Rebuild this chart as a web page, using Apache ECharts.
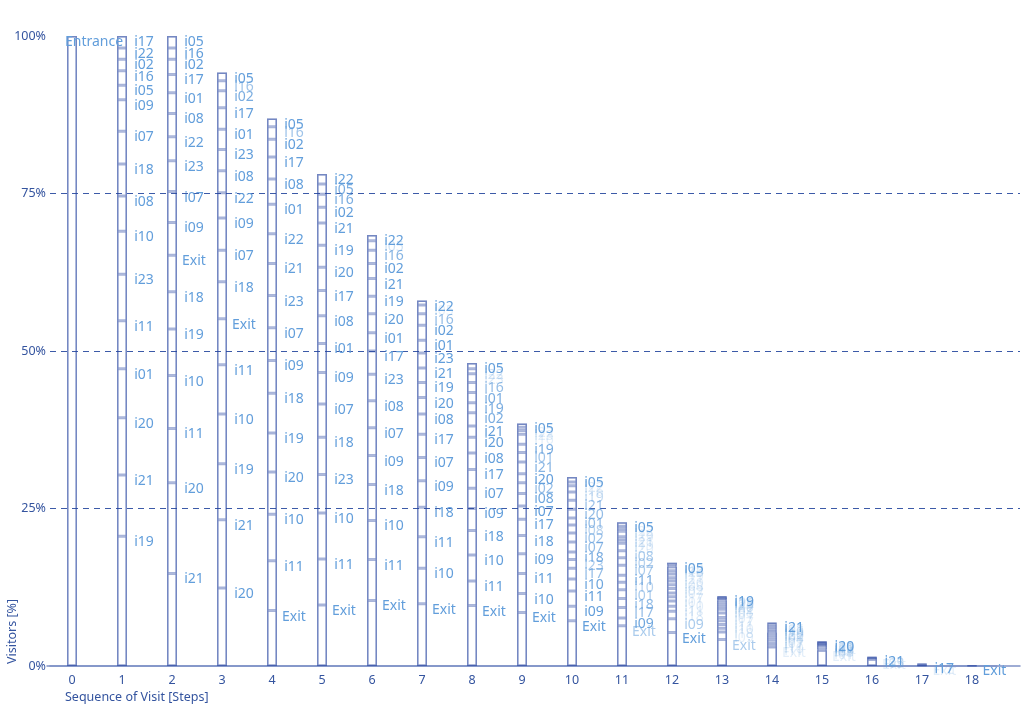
<!DOCTYPE html>
<html><head><meta charset="utf-8">
<script src="https://cdn.jsdelivr.net/npm/echarts@6/dist/echarts.min.js"></script>
<style>html,body{margin:0;padding:0;background:#fff}#c{width:1024px;height:710px}</style>
</head><body><div id="c"></div>
<script>
// Steps (x categories)
const steps = ['0','1','2','3','4','5','6','7','8','9','10','11','12','13','14','15','16','17','18'];
// y axis range / ticks (percent)
const yMin = 0, yMax = 100, yStep = 25;

// Segments of each step, listed from top to bottom: [page, share of visitors in %]
const step0 = [['Entrance',100]];
const step1 = [['i17',1.9],['i22',1.8],['i02',1.8],['i16',2.3],['i05',2.3],['i09',5.0],['i07',5.2],['i18',5.1],['i08',5.6],['i10',6.8],['i23',7.4],['i11',7.6],['i01',7.8],['i20',9.1],['i21',9.7],['i19',20.6]];
const step2 = [['i05',1.9],['i16',1.8],['i02',2.4],['i17',2.9],['i01',3.3],['i08',3.7],['i22',3.8],['i23',4.9],['i07',4.9],['i09',5.2],['Exit',5.8],['i18',5.9],['i19',7.4],['i10',8.4],['i11',8.6],['i20',14.4],['i21',14.7]];
const step3 = [['i05',1.3],['i16',1.6],['i02',2.7],['i17',3.4],['i01',3.2],['i23',3.4],['i08',3.5],['i22',4.0],['i09',5.1],['i07',5.0],['i18',5.9],['Exit',7.3],['i11',7.8],['i10',7.9],['i19',8.9],['i21',10.8],['i20',12.4]];
const step4 = [['i05',1.3],['i16',2.0],['i02',2.8],['i17',3.5],['i08',4.0],['i01',4.7],['i22',4.7],['i21',5.1],['i23',5.1],['i07',5.2],['i09',5.2],['i18',6.3],['i19',6.2],['i20',6.7],['i10',7.4],['i11',7.9],['Exit',8.8]];
const step5 = [['i22',1.6],['i05',1.6],['i16',2.1],['i02',2.5],['i21',3.5],['i19',3.5],['i20',3.7],['i17',4.0],['i08',4.4],['i01',4.6],['i09',5.0],['i07',5.3],['i18',5.9],['i23',6.1],['i10',7.3],['i11',7.3],['Exit',9.7]];
const step6 = [['i22',0.9],['i05',1.5],['i16',2.1],['i02',2.4],['i21',2.8],['i19',2.8],['i20',3.0],['i01',2.9],['i17',3.7],['i23',4.2],['i08',4.3],['i07',4.4],['i09',4.6],['i18',5.7],['i10',6.2],['i11',6.5],['Exit',10.4]];
const step7 = [['i22',0.7],['i05',1.4],['i16',1.8],['i02',2.4],['i01',2.0],['i23',2.4],['i21',2.3],['i19',2.4],['i20',2.6],['i08',3.2],['i17',3.7],['i07',3.7],['i09',4.2],['i18',4.7],['i11',5.0],['i10',5.6],['Exit',9.9]];
const step8 = [['i05',0.9],['i22',0.8],['i23',1.4],['i16',1.6],['i01',1.6],['i19',1.6],['i02',2.1],['i21',1.8],['i20',2.5],['i08',2.6],['i17',3.0],['i07',3.2],['i09',3.5],['i18',3.9],['i10',4.1],['i11',3.9],['Exit',9.6]];
const step9 = [['i05',0.6],['i22',0.5],['i23',0.6],['i16',1.6],['i19',1.3],['i01',1.5],['i21',1.9],['i20',1.4],['i02',1.7],['i08',2.0],['i07',2.1],['i17',2.6],['i18',2.9],['i09',3.1],['i11',3.2],['i10',3.0],['Exit',8.5]];
const step10 = [['i05',0.8],['i22',0.6],['i16',1.0],['i19',1.3],['i21',1.4],['i20',1.4],['i01',1.1],['i08',1.3],['i02',1.4],['i07',1.6],['i18',1.2],['i23',1.4],['i17',1.7],['i10',1.9],['i11',2.4],['i09',2.3],['Exit',7.2]];
const step11 = [['i05',0.6],['i22',0.4],['i16',0.4],['i23',0.9],['i21',0.5],['i19',0.5],['i20',1.2],['i08',1.1],['i02',1.2],['i07',1.6],['i11',1.1],['i10',1.2],['i01',1.4],['i18',1.4],['i17',1.7],['i09',1.2],['Exit',6.4]];
const step12 = [['i05',0.3],['i22',0.2],['i16',0.2],['i23',0.6],['i19',0.5],['i21',0.6],['i20',0.5],['i08',0.6],['i02',0.6],['i07',0.7],['i17',0.6],['i01',0.7],['i10',0.8],['i11',0.8],['i18',1.2],['i09',2.2],['Exit',5.3]];
const step13 = [['i19',0.2],['i05',0.1],['i22',0.1],['i16',0.1],['i23',0.2],['i21',0.3],['i20',0.3],['i02',0.4],['i08',0.4],['i01',0.6],['i07',0.7],['i17',0.5],['i11',0.6],['i10',0.6],['i18',0.6],['i09',1.2],['Exit',4.2]];
const step14 = [['i21',0.2],['i05',0.2],['i22',0.2],['i16',0.2],['i19',0.2],['i23',0.2],['i20',0.2],['i02',0.2],['i08',0.4],['i01',0.4],['i07',0.3],['i17',0.5],['i10',0.4],['i11',0.3],['Exit',3.0]];
const step15 = [['i20',0.1],['i05',0.1],['i21',0.1],['i19',0.1],['i22',0.1],['i16',0.1],['i23',0.1],['i02',0.25],['i08',0.3],['i01',0.2],['Exit',2.45]];
const step16 = [['i21',0.12],['i23',0.1],['i05',0.08],['i19',0.1],['Exit',1.05]];
const step17 = [['i17',0.15],['i12',0.15],['Exit',0.1]];
const step18 = [['Exit',0.1]];

const allSteps = [step0,step1,step2,step3,step4,step5,step6,step7,step8,step9,step10,step11,step12,step13,step14,step15,step16,step17,step18];

const AXIS_TXT = '#34549f';
const FONT = '"Noto Sans", "Open Sans", sans-serif';
const STROKE = 'rgba(38,68,160,0.4)';
const maxLen = Math.max(...allSteps.map(s => s.length));
const series = [];
for (let r = 0; r < maxLen; r++) {
  const data = allSteps.map(segs => {
    const idx = segs.length - 1 - r;
    if (idx < 0) return '-';
    const name = segs[idx][0], v = segs[idx][1];
    // labels crowded by the label just above them are drawn fainter
    const gapAbove = idx === 0 ? 99 : segs[idx - 1][1];
    const op = Math.max(0.18, Math.min(1, (gapAbove - 0.5) / 1.3));
    return { value: v, name: name, label: { color: 'rgba(98,158,219,' + op.toFixed(2) + ')' } };
  });
  series.push({
    type: 'bar', stack: 'visits', xAxisIndex: 0, yAxisIndex: 0, barWidth: 10, barGap: '-100%',
    data: data, silent: true,
    itemStyle: { color: 'rgba(255,255,255,0)', borderColor: STROKE, borderWidth: 1.5 },
    label: {
      show: true, position: ['100%', 0], offset: [17, -1], align: 'center', verticalAlign: 'top',
      formatter: p => p.data.name, fontSize: 14, lineHeight: 14, fontFamily: FONT
    },
    emphasis: { disabled: true }
  });
}
// outline of each whole bar (so the outer edges carry the same weight as the inner dividers)
const totals = allSteps.map(s => +s.reduce((a, b) => a + b[1], 0).toFixed(2));
series.push({
  type: 'bar', xAxisIndex: 0, yAxisIndex: 0, barWidth: 10, barGap: '-100%', silent: true,
  data: totals, itemStyle: { color: 'rgba(255,255,255,0)', borderColor: STROKE, borderWidth: 1.5 },
  label: { show: false }, emphasis: { disabled: true }
});

const chart = echarts.init(document.getElementById('c'), null, { renderer: 'canvas' });
chart.setOption({
  animation: false,
  backgroundColor: '#fff',
  grid: [
    { left: 47, right: 27, top: 36, bottom: 44 },
    { left: 50, right: 4, top: 36, bottom: 44 }
  ],
  xAxis: [
    { type: 'category', gridIndex: 0, data: steps, boundaryGap: true,
      axisLine: { lineStyle: { color: '#7f91c6', width: 1.5 } }, axisTick: { show: false },
      axisLabel: { color: AXIS_TXT, fontSize: 12.5, margin: 8, fontFamily: FONT }, splitLine: { show: false } },
    { type: 'value', gridIndex: 1, position: 'top', min: 0, max: 1,
      axisLine: { show: true, lineStyle: { color: '#7f91c6', width: 1.5 } }, axisTick: { show: false },
      axisLabel: { show: false }, splitLine: { show: false } }
  ],
  yAxis: [
    { type: 'value', gridIndex: 0, min: yMin, max: yMax, show: false },
    { type: 'value', gridIndex: 1, min: yMin, max: yMax, interval: yStep,
      axisLine: { show: false }, axisTick: { show: false },
      axisLabel: { formatter: '{value}%', color: AXIS_TXT, fontSize: 12.5, margin: 4, fontFamily: FONT },
      splitLine: { show: true, showMinLine: false, showMaxLine: false, lineStyle: { type: [6, 5], color: '#3c5aa8', width: 1 } } }
  ],
  graphic: [
    { type: 'text', x: 65, y: 697, style: { text: 'Sequence of Visit [Steps]', fill: AXIS_TXT, font: '12.5px ' + FONT, textVerticalAlign: 'middle' } },
    { type: 'text', x: 12, y: 664, rotation: Math.PI / 2, style: { text: 'Visitors [%]', fill: AXIS_TXT, font: '12.5px ' + FONT, textAlign: 'left', textVerticalAlign: 'middle' } }
  ],
  series: series
});
</script>
</body></html>
